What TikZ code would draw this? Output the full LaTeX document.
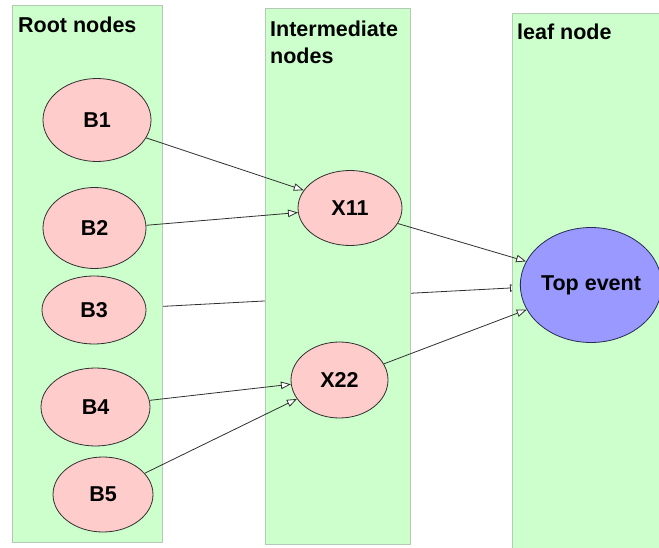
\documentclass[tikz,border=0pt]{standalone}
\usepackage{fontspec}
\setmainfont{Liberation Sans}
\usetikzlibrary{arrows.meta,shapes.geometric}
\definecolor{colfill}{HTML}{CCFFCC}
\definecolor{colline}{HTML}{B4CAB4}
\definecolor{pinkfill}{HTML}{FFCCCC}
\definecolor{bluefill}{HTML}{9999FF}
\definecolor{edgegray}{HTML}{303030}
\definecolor{topedge}{HTML}{2A2A55}
\begin{document}
\begin{tikzpicture}[x=1pt,y=-1pt,
  lane/.style={fill=colfill, draw=colline, line width=0.9pt},
  lanetitle/.style={anchor=base west, inner sep=0pt, align=left,
    font=\fontsize{21.5}{27}\selectfont\bfseries},
  rootnode/.style={ellipse, draw=edgegray, fill=pinkfill, line width=0.8pt,
    inner sep=0pt, font=\fontsize{21.5}{24}\selectfont\bfseries},
  topnode/.style={ellipse, draw=topedge, fill=bluefill, line width=0.8pt,
    inner sep=0pt, font=\fontsize{21.5}{24}\selectfont\bfseries},
  link/.style={draw=edgegray, line width=0.8pt,
    -{Triangle[open, fill=white, length=10pt, width=7.5pt]}}
]
\useasboundingbox (0,0) rectangle (659,548);

% nodes (positioned first so the hidden connector can refer to them)
\path (591,285) node[topnode, minimum width=137pt, minimum height=115pt] (Top) {Top event};
\path (94,310) node[rootnode, minimum width=104pt, minimum height=68pt] (B3) {B3};

% connector that passes behind the columns
\draw[link] (B3) -- (Top.182.5);

% columns
\path[lane] (12,5) rectangle (162,542);
\path[lane] (265,8) rectangle (410,544);
\path[lane] (512,13) rectangle (662,550);

\node[lanetitle] (t1) at (18,33) {Root nodes};
\node[lanetitle, anchor=north west] (t2) at (270,21) {Intermediate\\nodes};
\node[lanetitle] (t3) at (517,40) {leaf node};

% redraw nodes on top of the columns
\path (591,285) node[topnode, minimum width=137pt, minimum height=115pt] (Top) {Top event};
\path (94,310) node[rootnode, minimum width=104pt, minimum height=68pt] (B3) {B3};
\path (97,120) node[rootnode, minimum width=108pt, minimum height=83pt] (B1) {B1};
\path (94.5,228) node[rootnode, minimum width=103pt, minimum height=81pt] (B2) {B2};
\path (95.5,407) node[rootnode, minimum width=109pt, minimum height=78pt] (B4) {B4};
\path (103,494.5) node[rootnode, minimum width=100pt, minimum height=75pt] (B5) {B5};
\path (350,208) node[rootnode, minimum width=104pt, minimum height=75pt] (X11) {X11};
\path (339.5,380) node[rootnode, minimum width=97pt, minimum height=76pt] (X22) {X22};

% connectors
\draw[link] (B1.-20.6) -- (X11.159);
\draw[link] (B2.3.4) -- (X11.-175.5);
\draw[link] (B4.7.3) -- (X22.185.8);
\draw[link] (B5.27) -- (X22.204);
\draw[link] (X11.-18.8) -- (Top.160.7);
\draw[link] (X22.20.5) -- (Top.201.5);
\end{tikzpicture}
\end{document}
